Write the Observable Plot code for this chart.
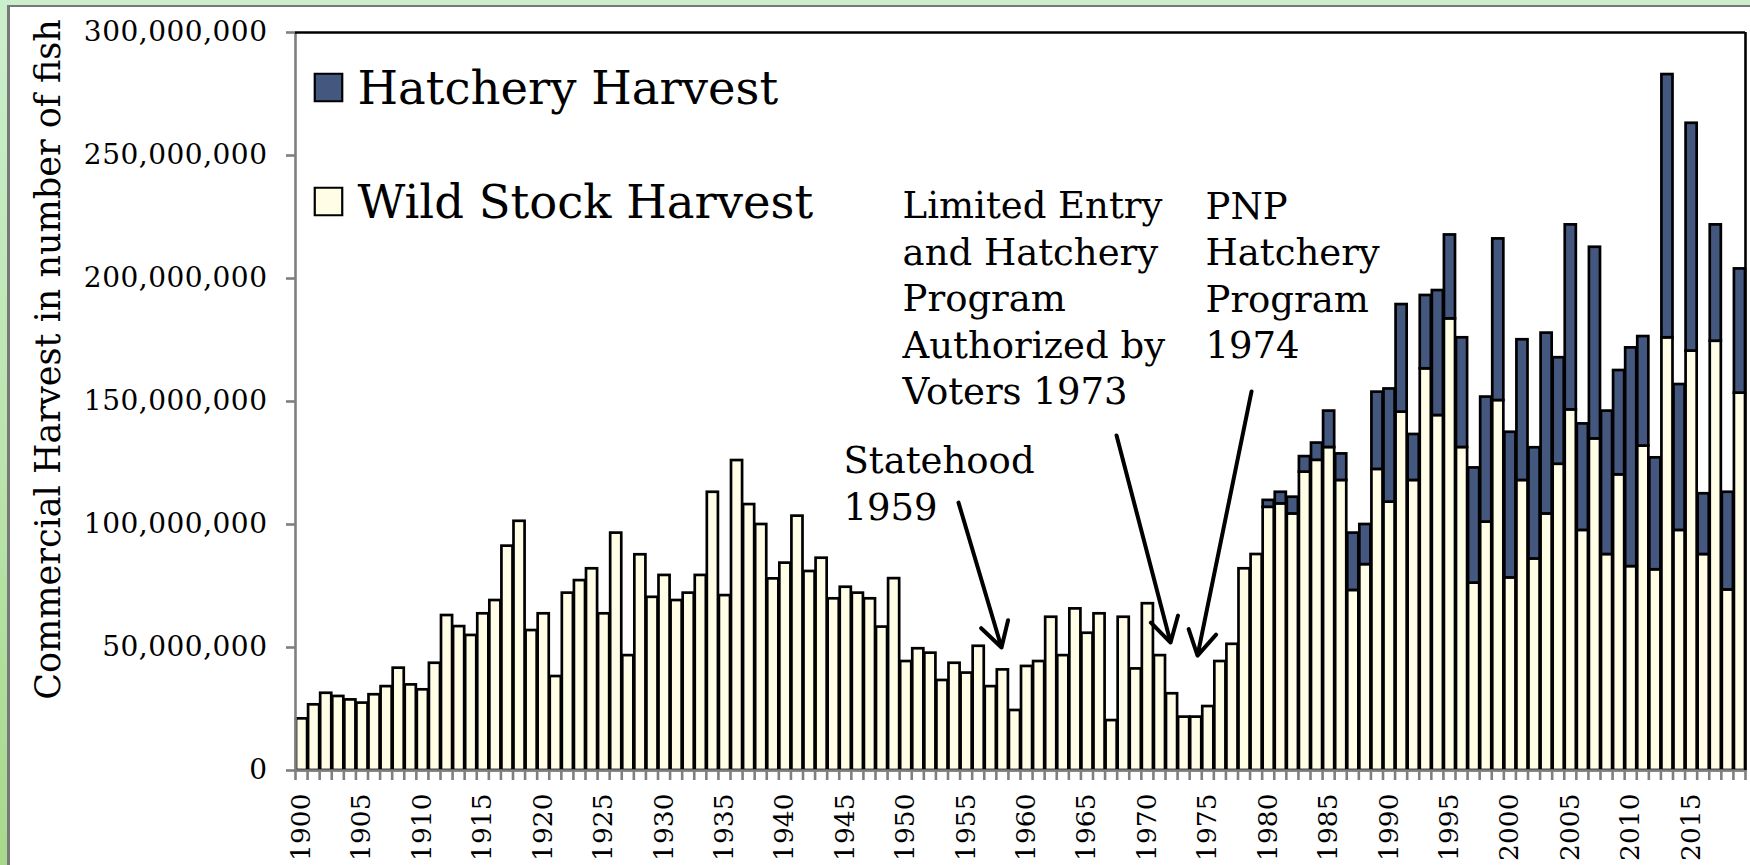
<!DOCTYPE html>
<html><head><meta charset="utf-8">
<script src="https://cdn.jsdelivr.net/npm/d3@7"></script>
<script src="https://cdn.jsdelivr.net/npm/@observablehq/plot@0.6"></script>
<style>
html,body{margin:0;padding:0;width:1750px;height:865px;overflow:hidden;
  background:linear-gradient(180deg,#cbefcc 0%,#b9e4ab 55%,#a6d98c 100%);}
#panel{position:absolute;left:7px;top:5px;width:1770px;height:890px;background:#fff;
  border-left:3px solid #787878;border-top:2px solid #787878;}
#chart{position:absolute;left:0;top:0;}
</style></head><body><div id="panel"></div><div id="chart"></div>
<script>
// ---- data (millions of fish) ----
const years = [1900,1901,1902,1903,1904,1905,1906,1907,1908,1909,1910,1911,1912,1913,1914,1915,1916,1917,1918,1919,
1920,1921,1922,1923,1924,1925,1926,1927,1928,1929,1930,1931,1932,1933,1934,1935,1936,1937,1938,1939,
1940,1941,1942,1943,1944,1945,1946,1947,1948,1949,1950,1951,1952,1953,1954,1955,1956,1957,1958,1959,
1960,1961,1962,1963,1964,1965,1966,1967,1968,1969,1970,1971,1972,1973,1974,1975,1976,1977,1978,1979,
1980,1981,1982,1983,1984,1985,1986,1987,1988,1989,1990,1991,1992,1993,1994,1995,1996,1997,1998,1999,
2000,2001,2002,2003,2004,2005,2006,2007,2008,2009,2010,2011,2012,2013,2014,2015,2016,2017,2018,2019];
const wildStock = [21.0,26.7,31.4,30.1,28.7,27.4,30.8,34.1,41.6,34.8,
32.8,43.6,63.0,58.5,54.9,63.7,69.1,91.2,101.3,56.9,
63.7,38.2,72.1,77.2,82.0,63.7,96.5,46.7,87.7,70.4,
79.3,69.1,72.1,79.3,113.1,71.1,126.0,108.1,100.0,77.9,
84.3,103.4,80.9,86.3,69.8,74.5,72.1,69.8,58.3,78.0,
44.3,49.5,47.7,36.6,43.6,39.6,50.5,34.1,40.9,24.4,
42.3,44.3,62.3,46.7,65.7,55.8,63.7,20.3,62.3,41.3,
67.8,46.7,31.2,21.7,21.7,26.0,44.3,51.3,82.0,87.8,
107.0,108.4,104.3,121.3,126.1,131.3,117.9,73.2,83.7,122.4,
109.1,145.7,117.9,163.3,144.3,183.6,131.3,76.2,101.0,150.4,
78.3,117.9,86.0,104.3,124.5,146.6,97.6,134.8,87.8,120.2,
82.9,131.9,81.6,175.9,97.6,170.5,87.8,174.5,73.4,153.4];
const hatcheryYears = [1980,1981,1982,1983,1984,1985,1986,1987,1988,1989,1990,1991,1992,1993,1994,1995,1996,1997,1998,1999,
2000,2001,2002,2003,2004,2005,2006,2007,2008,2009,2010,2011,2012,2013,2014,2015,2016,2017,2018,2019];
const hatchery = [2.8,4.7,6.8,6.3,7.0,14.8,10.8,23.3,16.3,31.4,
46.0,43.7,18.7,29.8,50.8,34.1,44.6,46.8,50.8,65.7,
59.2,57.2,45.2,73.5,43.3,75.2,43.3,77.9,58.3,42.4,
88.9,44.5,45.5,107.0,59.3,92.6,24.7,47.3,39.7,50.5];
const seriesNames = ["Hatchery Harvest", "Wild Stock Harvest"];
const seriesColors = ["#44577f", "#fffde6"];
const yTicks = [0, 50e6, 100e6, 150e6, 200e6, 250e6, 300e6];
const xLabelYears = [1900,1905,1910,1915,1920,1925,1930,1935,1940,1945,1950,1955,1960,1965,1970,1975,1980,1985,1990,1995,2000,2005,2010,2015];
const yTitle = "Commercial Harvest in number of fish";
// annotations: text anchored at (year, value) of last line baseline; arrows from -> to
const notes = [
  {text: "Statehood\n1959", year: 1945.35, value: 102.0},
  {text: "Limited Entry\nand Hatchery\nProgram\nAuthorized by\nVoters 1973", year: 1950.24, value: 148.8},
  {text: "PNP\nHatchery\nProgram\n1974", year: 1975.31, value: 167.5}
];
const arrows = [
  {x1: 1954.87, y1: 108.9, x2: 1958.43, y2: 50.0},
  {x1: 1967.95, y1: 136.2, x2: 1972.42, y2: 52.0},
  {x1: 1979.12, y1: 154.1, x2: 1974.65, y2: 46.7}
];

// ---- table ----
const rows = [];
years.forEach((y, i) => rows.push({year: y, series: "Wild Stock Harvest", value: wildStock[i] * 1e6}));
hatcheryYears.forEach((y, i) => rows.push({year: y, series: "Hatchery Harvest", value: hatchery[i] * 1e6}));
const boundaries = years.concat([years[years.length - 1] + 1]);
const M = 1e6;
const serif = "'DejaVu Serif', 'Liberation Serif', serif";
const axisGray = "#7f7f7f";

const legendItem = (name, rowDy) => [
  Plot.dot([name], {frameAnchor: "top-left", dx: 33, dy: rowDy, fill: d => d, symbol: "square",
    r: 15.5, stroke: "black", strokeWidth: 2.2}),
  Plot.text([name], {frameAnchor: "top-left", dx: 62, dy: rowDy + 16, textAnchor: "start", lineAnchor: "bottom",
    fontSize: 46.5, fill: "black"})
];

const chart = Plot.plot({
  width: 1750, height: 865,
  marginLeft: 295, marginRight: 5, marginTop: 32, marginBottom: 95,
  style: {background: "transparent", fontFamily: serif, overflow: "visible", color: "black"},
  x: {type: "linear", domain: [years[0], years[years.length - 1] + 1]},
  y: {domain: [0, 300e6]},
  color: {domain: seriesNames, range: seriesColors},
  marks: [
    Plot.rectY(rows, {x: "year", interval: 1, y: "value", fill: "series",
      order: ["Wild Stock Harvest", "Hatchery Harvest"],
      stroke: "black", strokeWidth: 2.7}),
    Plot.ruleX([years[0]], {stroke: axisGray, strokeWidth: 2.6}),
    Plot.ruleY([0], {stroke: axisGray, strokeWidth: 2.6}),
    Plot.ruleY([300e6], {stroke: "black", strokeWidth: 2.6}),
    Plot.ruleX([boundaries[boundaries.length - 1]], {stroke: "black", strokeWidth: 2.6}),
    Plot.axisY({ticks: yTicks, tickSize: 9, tickPadding: 19, tickFormat: d3.format(","),
      stroke: axisGray, strokeWidth: 2.6, fill: "black", fontSize: 28, label: null}),
    Plot.axisX({ticks: boundaries, tickSize: 10, stroke: axisGray, strokeWidth: 2.6, fill: "none", label: null, tickFormat: () => ""}),
    Plot.axisX({ticks: xLabelYears.map(y => y + 0.5), tickSize: 0, tickPadding: 23, tickRotate: -90,
      tickFormat: d => String(d - 0.5), fill: "black", fontSize: 26.5, label: null}),
    Plot.text([yTitle], {frameAnchor: "left", dx: -236, dy: -42, rotate: -90, fontSize: 35,
      textAnchor: "middle", lineAnchor: "bottom", fill: "black"}),
    // legend
    ...legendItem(seriesNames[0], 55),
    ...legendItem(seriesNames[1], 169),
    // annotations
    Plot.text(notes, {x: "year", y: d => d.value * M, text: "text", textAnchor: "start", lineAnchor: "bottom",
      lineHeight: 1.26, fontSize: 37, fill: "black"}),
    Plot.arrow(arrows, {x1: "x1", y1: d => d.y1 * M, x2: "x2", y2: d => d.y2 * M,
      stroke: "black", strokeWidth: 4, headLength: 10.5, headAngle: 60})
  ]
});
document.getElementById("chart").appendChild(chart);
d3.select(chart).selectAll('g[aria-label="y-axis tick label"] text').attr("letter-spacing", "0.5px");
</script></body></html>
